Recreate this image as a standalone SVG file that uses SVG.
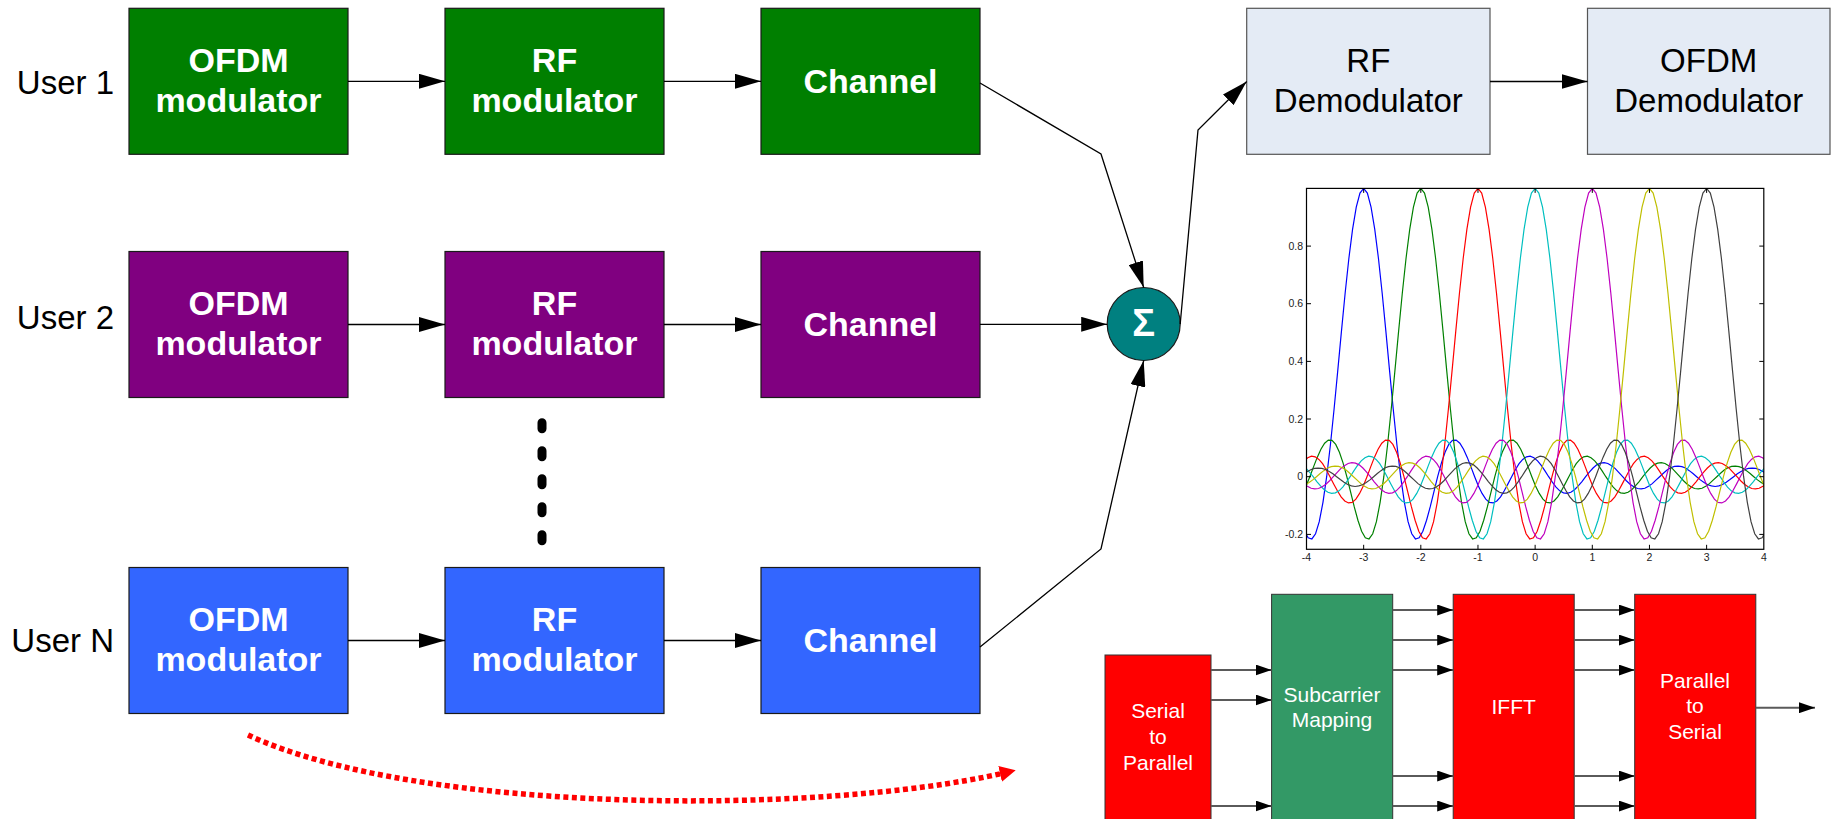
<svg xmlns="http://www.w3.org/2000/svg" xmlns:xlink="http://www.w3.org/1999/xlink" width="1833" height="819" viewBox="0 0 1833 819">
  <style>
    .box { stroke: #1a1a1a; stroke-width: 1.2; }
    .green { fill: #007f00; }
    .purple { fill: #800080; }
    .blue { fill: #3366ff; }
    .light { fill: #e4ebf5; stroke: #555; stroke-width: 1.2; }
    .red { fill: #ff0000; stroke: #333; stroke-width: 1; }
    .sea { fill: #339966; stroke: #333; stroke-width: 1; }
    .btxt { font-family: "Liberation Sans", Arial, sans-serif; font-weight: bold; font-size: 34px; fill: #fff; text-anchor: middle; }
    .rtxt { font-family: "Liberation Sans", Arial, sans-serif; font-size: 33px; fill: #000; text-anchor: middle; }
    .utxt { font-family: "Liberation Sans", Arial, sans-serif; font-size: 33px; fill: #000; text-anchor: end; }
    .stxt { font-family: "Liberation Sans", Arial, sans-serif; font-size: 21px; fill: #fff; text-anchor: middle; }
    .tick { font-family: "Liberation Sans", Arial, sans-serif; font-size: 10.5px; fill: #222; }
    .wire { fill: none; stroke: #000; stroke-width: 1.3; marker-end: url(#ah); }
    .bus { fill: none; stroke: #5a5a5a; stroke-width: 2; marker-end: url(#sh); }
    .sinc { fill: none; stroke-width: 1.2; vector-effect: non-scaling-stroke; }
  </style>
  <defs>
    <marker id="ah" markerWidth="26" markerHeight="15" refX="26" refY="7.5" orient="auto" markerUnits="userSpaceOnUse">
      <path d="M0,0 L26,7.5 L0,15 z" fill="#000"/>
    </marker>
    <marker id="sh" markerWidth="16" markerHeight="11" refX="16" refY="5.5" orient="auto" markerUnits="userSpaceOnUse">
      <path d="M0,0 L16,5.5 L0,11 z" fill="#000"/>
    </marker>
    <marker id="rh" markerWidth="16" markerHeight="16" refX="4" refY="8" orient="auto" markerUnits="userSpaceOnUse">
      <path d="M0,0 L16,8 L0,16 z" fill="#ff0000"/>
    </marker>
    <clipPath id="axclip">
      <rect x="1306.5" y="188" width="457.3" height="361.3"/>
    </clipPath>
    <!-- sin(pi u)/(pi u): x in tenths of u, y = -1000 * value -->
    <polyline id="sinc" class="sinc" points="-110,0 -109,-9 -108,-17 -107,-24 -106,-29 -105,-30 -104,-29 -103,-25 -102,-18 -101,-10 -100,0 -99,10 -98,19 -97,27 -96,32 -95,34 -94,32 -93,28 -92,20 -91,11 -90,0 -89,-11 -88,-21 -87,-30 -86,-35 -85,-37 -84,-36 -83,-31 -82,-23 -81,-12 -80,0 -79,12 -78,24 -77,33 -76,40 -75,42 -74,41 -73,35 -72,26 -71,14 -70,0 -69,-14 -68,-28 -67,-38 -66,-46 -65,-49 -64,-47 -63,-41 -62,-30 -61,-16 -60,0 -59,17 -58,32 -57,45 -56,54 -55,58 -54,56 -53,49 -52,36 -51,19 -50,0 -49,-20 -48,-39 -47,-55 -46,-66 -45,-71 -44,-69 -43,-60 -42,-45 -41,-24 -40,0 -39,25 -38,49 -37,70 -36,84 -35,91 -34,89 -33,78 -32,58 -31,32 -30,0 -29,-34 -28,-67 -27,-95 -26,-116 -25,-127 -24,-126 -23,-112 -22,-85 -21,-47 -20,0 -19,52 -18,104 -17,151 -16,189 -15,212 -14,216 -13,198 -12,156 -11,89 -10,0 -9,-109 -8,-234 -7,-368 -6,-505 -5,-637 -4,-757 -3,-858 -2,-935 -1,-984 0,-1000 1,-984 2,-935 3,-858 4,-757 5,-637 6,-505 7,-368 8,-234 9,-109 10,0 11,89 12,156 13,198 14,216 15,212 16,189 17,151 18,104 19,52 20,0 21,-47 22,-85 23,-112 24,-126 25,-127 26,-116 27,-95 28,-67 29,-34 30,0 31,32 32,58 33,78 34,89 35,91 36,84 37,70 38,49 39,25 40,0 41,-24 42,-45 43,-60 44,-69 45,-71 46,-66 47,-55 48,-39 49,-20 50,0 51,19 52,36 53,49 54,56 55,58 56,54 57,45 58,32 59,17 60,0 61,-16 62,-30 63,-41 64,-47 65,-49 66,-46 67,-38 68,-28 69,-14 70,0 71,14 72,26 73,35 74,41 75,42 76,40 77,33 78,24 79,12 80,0 81,-12 82,-23 83,-31 84,-36 85,-37 86,-35 87,-30 88,-21 89,-11 90,0 91,11 92,20 93,28 94,32 95,34 96,32 97,27 98,19 99,10 100,0 101,-10 102,-18 103,-25 104,-29 105,-30 106,-29 107,-24 108,-17 109,-9 110,0"/>
  </defs>

  <rect width="1833" height="819" fill="#fff"/>

  <!-- user labels -->
  <g id="labels">
    <text class="utxt" x="114" y="93.5">User 1</text>
    <text class="utxt" x="114" y="329">User 2</text>
    <text class="utxt" x="114" y="652">User N</text>
  </g>

  <!-- transmit chain, user 1 -->
  <g id="ofdm-mod-1">
    <rect class="box green" x="129" y="8.3" width="219" height="146"/>
    <text class="btxt" x="238.5" y="71.5">OFDM</text>
    <text class="btxt" x="238.5" y="111.5">modulator</text>
  </g>
  <g id="rf-mod-1">
    <rect class="box green" x="445" y="8.3" width="219" height="146"/>
    <text class="btxt" x="554.5" y="71.5">RF</text>
    <text class="btxt" x="554.5" y="111.5">modulator</text>
  </g>
  <g id="channel-1">
    <rect class="box green" x="761" y="8.3" width="219" height="146"/>
    <text class="btxt" x="870.5" y="93">Channel</text>
  </g>

  <!-- transmit chain, user 2 -->
  <g id="ofdm-mod-2">
    <rect class="box purple" x="129" y="251.5" width="219" height="146"/>
    <text class="btxt" x="238.5" y="314.5">OFDM</text>
    <text class="btxt" x="238.5" y="354.5">modulator</text>
  </g>
  <g id="rf-mod-2">
    <rect class="box purple" x="445" y="251.5" width="219" height="146"/>
    <text class="btxt" x="554.5" y="314.5">RF</text>
    <text class="btxt" x="554.5" y="354.5">modulator</text>
  </g>
  <g id="channel-2">
    <rect class="box purple" x="761" y="251.5" width="219" height="146"/>
    <text class="btxt" x="870.5" y="336">Channel</text>
  </g>

  <!-- more users in between -->
  <path id="ellipsis" d="M542 422.8 V540.8" fill="none" stroke="#000" stroke-width="9" stroke-linecap="round" stroke-dasharray="6 22"/>

  <!-- transmit chain, user N -->
  <g id="ofdm-mod-n">
    <rect class="box blue" x="129" y="567.5" width="219" height="146"/>
    <text class="btxt" x="238.5" y="630.5">OFDM</text>
    <text class="btxt" x="238.5" y="670.5">modulator</text>
  </g>
  <g id="rf-mod-n">
    <rect class="box blue" x="445" y="567.5" width="219" height="146"/>
    <text class="btxt" x="554.5" y="630.5">RF</text>
    <text class="btxt" x="554.5" y="670.5">modulator</text>
  </g>
  <g id="channel-n">
    <rect class="box blue" x="761" y="567.5" width="219" height="146"/>
    <text class="btxt" x="870.5" y="652">Channel</text>
  </g>

  <!-- summing node -->
  <g id="sum">
    <circle cx="1143.7" cy="324" r="36.5" fill="#008080" stroke="#1a1a1a" stroke-width="1.2"/>
    <text x="1143.7" y="336" font-family="'Liberation Sans', Arial, sans-serif" font-weight="bold" font-size="38" fill="#fff" text-anchor="middle">Σ</text>
  </g>

  <!-- receiver -->
  <g id="rf-demod">
    <rect class="light" x="1246.7" y="8.3" width="243.3" height="146"/>
    <text class="rtxt" x="1368.3" y="71.5">RF</text>
    <text class="rtxt" x="1368.3" y="111.5">Demodulator</text>
  </g>
  <g id="ofdm-demod">
    <rect class="light" x="1587.5" y="8.3" width="242.5" height="146"/>
    <text class="rtxt" x="1708.7" y="71.5">OFDM</text>
    <text class="rtxt" x="1708.7" y="111.5">Demodulator</text>
  </g>

  <!-- subcarrier spectra -->
  <g id="spectrum-plot">
    <g clip-path="url(#axclip)">
      <use xlink:href="#sinc" href="#sinc" stroke="#0000ff" transform="translate(1363.66,476.7) scale(3.7,0.2883)"/>
      <use xlink:href="#sinc" href="#sinc" stroke="#008000" transform="translate(1420.82,476.7) scale(3.7,0.2883)"/>
      <use xlink:href="#sinc" href="#sinc" stroke="#ff0000" transform="translate(1477.98,476.7) scale(3.7,0.2883)"/>
      <use xlink:href="#sinc" href="#sinc" stroke="#00bfbf" transform="translate(1535.14,476.7) scale(3.7,0.2883)"/>
      <use xlink:href="#sinc" href="#sinc" stroke="#bf00bf" transform="translate(1592.3,476.7) scale(3.7,0.2883)"/>
      <use xlink:href="#sinc" href="#sinc" stroke="#bfbf00" transform="translate(1649.46,476.7) scale(3.7,0.2883)"/>
      <use xlink:href="#sinc" href="#sinc" stroke="#404040" transform="translate(1706.62,476.7) scale(3.7,0.2883)"/>
    </g>
    <rect x="1306.5" y="188.4" width="457.3" height="360.9" fill="none" stroke="#000" stroke-width="1.2"/>
    <path fill="none" stroke="#000" stroke-width="1" d="M1306.5 534.4h4.5M1306.5 476.7h4.5M1306.5 419h4.5M1306.5 361.4h4.5M1306.5 303.7h4.5M1306.5 246.1h4.5
      M1763.8 534.4h-4.5M1763.8 476.7h-4.5M1763.8 419h-4.5M1763.8 361.4h-4.5M1763.8 303.7h-4.5M1763.8 246.1h-4.5
      M1363.66 549.3v-4.5M1420.82 549.3v-4.5M1477.98 549.3v-4.5M1535.14 549.3v-4.5M1592.3 549.3v-4.5M1649.46 549.3v-4.5M1706.62 549.3v-4.5
      M1363.66 188.4v4.5M1420.82 188.4v4.5M1477.98 188.4v4.5M1535.14 188.4v4.5M1592.3 188.4v4.5M1649.46 188.4v4.5M1706.62 188.4v4.5"/>
    <g class="tick" text-anchor="end">
      <text x="1303" y="538">-0.2</text>
      <text x="1303" y="480.3">0</text>
      <text x="1303" y="422.6">0.2</text>
      <text x="1303" y="365">0.4</text>
      <text x="1303" y="307.3">0.6</text>
      <text x="1303" y="249.7">0.8</text>
    </g>
    <g class="tick" text-anchor="middle">
      <text x="1306.5" y="561">-4</text>
      <text x="1363.66" y="561">-3</text>
      <text x="1420.82" y="561">-2</text>
      <text x="1477.98" y="561">-1</text>
      <text x="1535.14" y="561">0</text>
      <text x="1592.3" y="561">1</text>
      <text x="1649.46" y="561">2</text>
      <text x="1706.62" y="561">3</text>
      <text x="1763.8" y="561">4</text>
    </g>
  </g>

  <!-- OFDM modulator internals -->
  <g id="serial-to-parallel">
    <rect class="red" x="1105" y="655" width="106" height="170"/>
    <text class="stxt" x="1158" y="718">Serial</text>
    <text class="stxt" x="1158" y="744">to</text>
    <text class="stxt" x="1158" y="770">Parallel</text>
  </g>
  <g id="subcarrier-mapping">
    <rect class="sea" x="1271.6" y="594.3" width="121.1" height="230"/>
    <text class="stxt" x="1332" y="701.7">Subcarrier</text>
    <text class="stxt" x="1332" y="726.7">Mapping</text>
  </g>
  <g id="ifft">
    <rect class="red" x="1453.2" y="594.3" width="121" height="230"/>
    <text class="stxt" x="1513.7" y="714">IFFT</text>
  </g>
  <g id="parallel-to-serial">
    <rect class="red" x="1634.7" y="594.3" width="121.1" height="230"/>
    <text class="stxt" x="1695" y="688.3">Parallel</text>
    <text class="stxt" x="1695" y="713.3">to</text>
    <text class="stxt" x="1695" y="739.3">Serial</text>
  </g>

  <!-- connectors -->
  <g id="connectors">
    <path class="wire" d="M348 81.3 H445"/>
    <path class="wire" d="M664 81.3 H761"/>
    <path class="wire" d="M348 324.5 H445"/>
    <path class="wire" d="M664 324.5 H761"/>
    <path class="wire" d="M348 640.5 H445"/>
    <path class="wire" d="M664 640.5 H761"/>
    <path class="wire" d="M980 83 L1101 154 L1143.7 287.5"/>
    <path class="wire" d="M980 324.3 H1107.2"/>
    <path class="wire" d="M980 647 L1101 549 L1143.7 360.5"/>
    <path class="wire" d="M1180.2 324 L1198 130 L1246.7 81.5"/>
    <path class="wire" d="M1490 81.5 H1587.5"/>

    <path class="bus" d="M1211 670 H1271.6"/>
    <path class="bus" d="M1211 700 H1271.6"/>
    <path class="bus" d="M1211 806 H1271.6"/>
    <path class="bus" d="M1392.7 610 H1453.2"/>
    <path class="bus" d="M1392.7 640 H1453.2"/>
    <path class="bus" d="M1392.7 670 H1453.2"/>
    <path class="bus" d="M1392.7 776 H1453.2"/>
    <path class="bus" d="M1392.7 806 H1453.2"/>
    <path class="bus" d="M1574.2 610 H1634.7"/>
    <path class="bus" d="M1574.2 640 H1634.7"/>
    <path class="bus" d="M1574.2 670 H1634.7"/>
    <path class="bus" d="M1574.2 776 H1634.7"/>
    <path class="bus" d="M1574.2 806 H1634.7"/>
    <path class="bus" d="M1755.8 707.7 H1815"/>

    <path d="M248 735 C420 815 820 815 1004 773" fill="none" stroke="#ff0000" stroke-width="5.5" stroke-dasharray="5 3.5" marker-end="url(#rh)"/>
  </g>
</svg>
